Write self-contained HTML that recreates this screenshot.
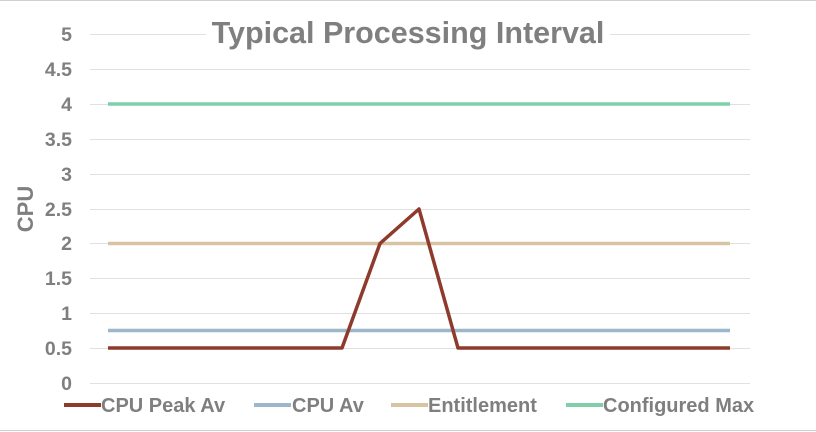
<!DOCTYPE html>
<html><head><style>body{margin:0;background:#fff}svg{display:block}text{font-family:"Liberation Sans",sans-serif;font-weight:bold;fill:#7f7f7f}</style></head><body>
<svg width="816" height="432" viewBox="0 0 816 432">
<line x1="0" y1="0.5" x2="816" y2="0.5" stroke="#d0d0d0"/>
<line x1="0" y1="430.5" x2="816" y2="430.5" stroke="#d0d0d0"/>
<g stroke="#e0e0e0" stroke-width="1">
<line x1="90" x2="750" y1="34.5" y2="34.5"/><line x1="90" x2="750" y1="69.5" y2="69.5"/><line x1="90" x2="750" y1="104.5" y2="104.5"/><line x1="90" x2="750" y1="139.5" y2="139.5"/><line x1="90" x2="750" y1="174.5" y2="174.5"/><line x1="90" x2="750" y1="209.5" y2="209.5"/><line x1="90" x2="750" y1="243.5" y2="243.5"/><line x1="90" x2="750" y1="278.5" y2="278.5"/><line x1="90" x2="750" y1="313.5" y2="313.5"/><line x1="90" x2="750" y1="348.5" y2="348.5"/><line x1="90" x2="750" y1="383.5" y2="383.5"/>
</g>
<rect x="206" y="14" width="404" height="34" fill="#fff"/>
<text x="408" y="43" text-anchor="middle" font-size="30.5">Typical Processing Interval</text>
<g font-size="19.5" text-anchor="end">
<text x="72" y="41">5</text><text x="72" y="76">4.5</text><text x="72" y="111">4</text><text x="72" y="146">3.5</text><text x="72" y="181">3</text><text x="72" y="216">2.5</text><text x="72" y="250">2</text><text x="72" y="285">1.5</text><text x="72" y="320">1</text><text x="72" y="355">0.5</text><text x="72" y="390">0</text>
</g>
<text transform="translate(33,209) rotate(-90)" text-anchor="middle" font-size="22">CPU</text>
<g stroke-width="3.5" fill="none">
<line x1="108" x2="730" y1="104" y2="104" stroke="#7fcfaa"/>
<line x1="108" x2="730" y1="243.5" y2="243.5" stroke="#d8c3a5"/>
<line x1="108" x2="730" y1="330.5" y2="330.5" stroke="#9db7ca"/>
<polyline points="108,348 342,348 380,243.5 419,209 458,348 730,348" stroke="#8e3a2c" stroke-linejoin="round"/>
</g>
<g stroke-width="4">
<line x1="64" x2="101" y1="405" y2="405" stroke="#8e3a2c"/>
<line x1="254" x2="291" y1="405" y2="405" stroke="#9db7ca"/>
<line x1="391" x2="428" y1="405" y2="405" stroke="#d8c3a5"/>
<line x1="566" x2="603" y1="405" y2="405" stroke="#7fcfaa"/>
</g>
<g font-size="20">
<text x="101" y="412">CPU Peak Av</text>
<text x="292" y="412">CPU Av</text>
<text x="428" y="412">Entitlement</text>
<text x="603" y="412">Configured Max</text>
</g>
</svg>
</body></html>
